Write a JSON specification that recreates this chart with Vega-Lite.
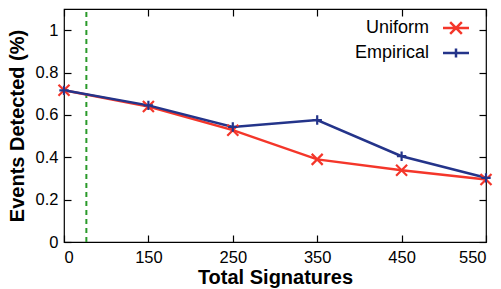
{
  "$schema": "https://vega.github.io/schema/vega-lite/v6.json",
  "width": 422,
  "height": 233,
  "autosize": "none",
  "padding": {"left": 64, "top": 9, "right": 15, "bottom": 47},
  "background": "white",
  "config": {
    "font": "Liberation Sans",
    "view": {"stroke": "black", "strokeWidth": 1.2},
    "axis": {
      "grid": false,
      "labelColor": "black",
      "titleColor": "black",
      "labelFont": "Liberation Sans",
      "titleFont": "Liberation Sans",
      "labelFontSize": 16.5,
      "titleFontSize": 20,
      "titleFontWeight": "bold"
    }
  },
  "datasets": {
    "series": [
      {"pos": 0, "signatures": 0, "method": "Uniform", "detected": 0.716},
      {"pos": 1, "signatures": 150, "method": "Uniform", "detected": 0.640},
      {"pos": 2, "signatures": 250, "method": "Uniform", "detected": 0.528},
      {"pos": 3, "signatures": 350, "method": "Uniform", "detected": 0.390},
      {"pos": 4, "signatures": 450, "method": "Uniform", "detected": 0.339},
      {"pos": 5, "signatures": 550, "method": "Uniform", "detected": 0.295},
      {"pos": 0, "signatures": 0, "method": "Empirical", "detected": 0.716},
      {"pos": 1, "signatures": 150, "method": "Empirical", "detected": 0.645},
      {"pos": 2, "signatures": 250, "method": "Empirical", "detected": 0.543},
      {"pos": 3, "signatures": 350, "method": "Empirical", "detected": 0.576},
      {"pos": 4, "signatures": 450, "method": "Empirical", "detected": 0.405},
      {"pos": 5, "signatures": 550, "method": "Empirical", "detected": 0.303}
    ],
    "marker": [{"pos": 0.265}]
  },
  "layer": [
    {
      "data": {"name": "marker"},
      "mark": {"type": "rule", "color": "#2a9a2a", "strokeWidth": 2, "strokeDash": [5, 4]},
      "encoding": {
        "x": {"field": "pos", "type": "quantitative", "scale": {"domain": [0, 5], "nice": false, "zero": false},
          "axis": {"orient": "top", "values": [0, 1, 2, 3, 4, 5], "labels": false, "title": null, "domain": false, "tickSize": -7, "tickColor": "black", "tickWidth": 1.2}},
        "y": {"datum": 0, "type": "quantitative", "scale": {"domain": [0, 1.1], "nice": false},
          "axis": {"orient": "right", "values": [0, 0.2, 0.4, 0.6, 0.8, 1], "labels": false, "title": null, "domain": false, "tickSize": -7, "tickColor": "black", "tickWidth": 1.2}},
        "y2": {"datum": 1.1}
      }
    },
    {
      "data": {"name": "series"},
      "layer": [
        {
          "mark": {"type": "line", "strokeWidth": 2.5},
          "encoding": {
            "x": {"field": "pos", "type": "quantitative"},
            "y": {"field": "detected", "type": "quantitative"},
            "color": {"field": "method", "type": "nominal", "scale": {"domain": ["Uniform", "Empirical"], "range": ["#f4362a", "#24348a"]}, "legend": null},
            "order": {"field": "pos"}
          }
        },
        {
          "mark": {"type": "point", "filled": false, "strokeWidth": 2.2, "opacity": 1, "size": 121},
          "encoding": {
            "x": {"field": "pos", "type": "quantitative",
              "axis": {"orient": "bottom", "values": [0, 1, 2, 3, 4, 5], "title": "Total Signatures", "labelPadding": 14, "titlePadding": 2, "domain": false, "tickSize": -7, "tickColor": "black", "tickWidth": 1.2,
                "labelExpr": "['0','150','250','350','450','550'][datum.value]"}},
            "y": {"field": "detected", "type": "quantitative",
              "axis": {"orient": "left", "values": [0, 0.2, 0.4, 0.6, 0.8, 1], "format": "~g", "title": "Events Detected (%)", "labelPadding": 13, "titlePadding": 8, "domain": false, "tickSize": -7, "tickColor": "black", "tickWidth": 1.2}},
            "color": {"field": "method", "type": "nominal", "scale": {"domain": ["Uniform", "Empirical"], "range": ["#f4362a", "#24348a"]}, "legend": null},
            "shape": {"field": "method", "type": "nominal", "scale": {"domain": ["Uniform", "Empirical"], "range": ["M-1,-1L1,1M-1,1L1,-1", "M-0.85,0L0.85,0M0,-0.85L0,0.85"]}, "legend": null}
          }
        }
      ]
    },
    {
      "data": {"name": "series"},
      "transform": [{"filter": "datum.pos < 0"}],
      "mark": {"type": "point", "filled": false, "strokeWidth": 2.5, "opacity": 1},
      "encoding": {
        "x": {"field": "pos", "type": "quantitative", "axis": null},
        "y": {"field": "detected", "type": "quantitative", "axis": null},
        "color": {"field": "method", "type": "nominal", "scale": {"domain": ["Uniform", "Empirical"], "range": ["#f4362a", "#24348a"]},
          "legend": {
            "orient": "none", "legendX": 383, "legendY": 10, "title": null, "padding": 0,
            "labelFontSize": 18, "labelAlign": "right", "labelOffset": -36, "labelColor": "black",
            "symbolSize": 169, "symbolStrokeWidth": 2.5, "symbolFillColor": "transparent", "rowPadding": 4
          }},
        "shape": {"field": "method", "type": "nominal", "scale": {"domain": ["Uniform", "Empirical"], "range": ["M-2,0L2,0M-0.9,-0.9L0.9,0.9M-0.9,0.9L0.9,-0.9", "M-2,0L2,0M0,-0.7L0,0.7"]}}
      }
    }
  ],
  "resolve": {"axis": {"x": "independent", "y": "independent"}, "scale": {"color": "independent", "shape": "independent"}}
}
